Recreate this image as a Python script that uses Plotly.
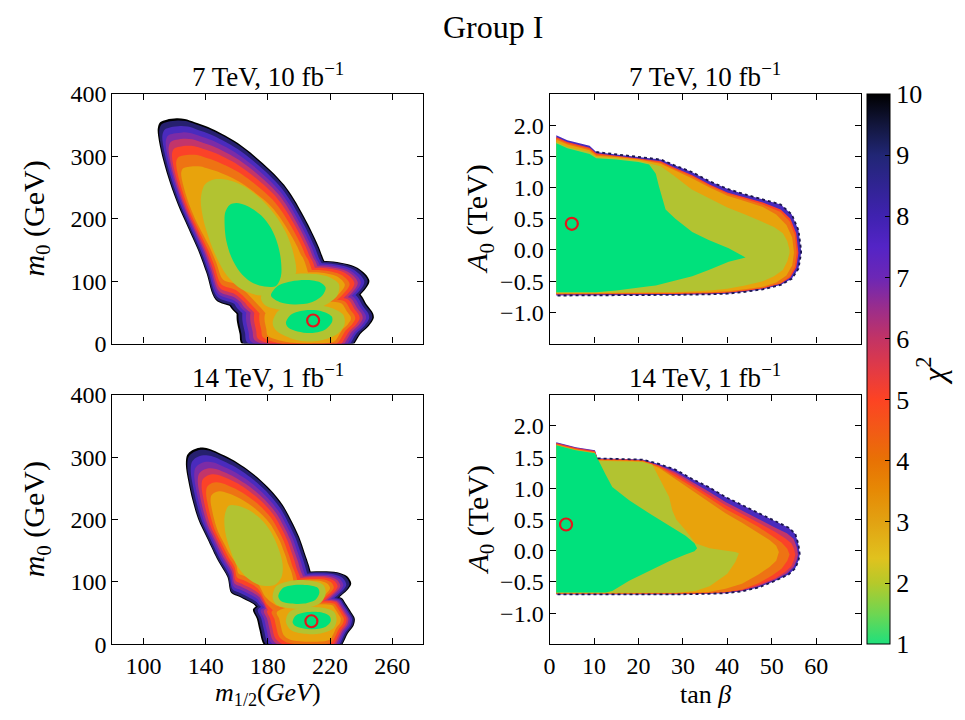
import plotly.graph_objects as go

FONT = "Liberation Serif"
W, H = 965, 720

# ---------------------------------------------------------------- colour bar
CHI2_TICKS = [1, 2, 3, 4, 5, 6, 7, 8, 9, 10]
CB_STOPS = [1.0, 1.5, 2.0, 2.4, 3.0, 3.5, 4.0, 4.5, 5.0, 5.5, 6.0, 6.5, 7.0, 7.5, 8.0, 9.0, 9.5, 10.0]
CB_COLORS = ["#1fe07c", "#6fd651", "#b6c92a", "#e0c21e", "#e2a212", "#e68a05", "#e87204",
             "#f25a16", "#fd4323", "#e23a45", "#c23365", "#9a2d8c", "#6c27b6", "#5424c6",
             "#3f22b0", "#212675", "#12163c", "#000000"]

# ---------------------------------------------------------------- tick labels
M12_TICKS = [100, 140, 180, 220, 260]
M0_TICKS = [0, 100, 200, 300, 400]
TANB_TICKS = [0, 10, 20, 30, 40, 50, 60]
A0_TICKS = [-1.0, -0.5, 0.0, 0.5, 1.0, 1.5, 2.0]

# best-fit points (red circles)
BEST_M12 = [209.1, 208.0]
BEST_M0 = [37.0, 37.0]
BEST_TANB = [5.0, 3.7]
BEST_A0 = [0.42, 0.42]

# ======================= (m1/2, m0) plane, 7 TeV 10 fb-1 ====================
TL_MAIN_X = [212.0, 195.0, 178.0, 166.0, 158.0, 146.5, 140.5, 135.2, 128.8, 122.4, 117.1, 112.8,
             110.0, 109.2, 110.7, 114.9, 121.3, 126.6, 133.0, 141.6, 150.1, 160.7, 171.4, 182.0,
             190.5, 196.9, 203.3, 208.6, 212.9, 216.1, 218.2, 222.5, 225.0, 222.0]
TL_MAIN_Y = [-60.0, -45.0, 5.0, 40.0, 58.0, 70.0, 113.1, 149.1, 185.0, 221.0, 257.0, 293.0,
             323.9, 344.4, 354.7, 358.8, 360.9, 359.9, 354.7, 347.0, 336.7, 321.3, 300.7, 277.1,
             254.5, 231.3, 203.1, 177.4, 154.2, 133.7, 124.4, 87.4, 40.0, -20.0]
TL_MAIN_ANCHOR = [163.1, 156.8]
TL_MAIN_SX = [1.0, 0.982, 0.945, 0.905, 0.87, 0.83, 0.78, 0.72]
TL_MAIN_SY = [1.0, 0.984, 0.94, 0.89, 0.84, 0.785, 0.715, 0.625]
TL_MAIN_L2_X = [145.8, 139.4, 136.9, 138.4, 142.0, 146.9, 153.3, 162.9, 175.6, 190.5, 198.0, 196.5,
                192.7, 186.3, 176.7, 165.0, 154.3]
TL_MAIN_L2_Y = [263.2, 254.5, 231.3, 200.5, 169.7, 138.8, 110.5, 87.4, 77.1, 87.4, 113.1, 143.9,
                172.2, 200.5, 228.8, 251.9, 262.2]
TL_MAIN_L1_X = [155.4, 152.6, 152.2, 153.3, 156.5, 161.8, 169.2, 177.8, 185.2, 188.4, 188.4, 186.3,
                182.0, 175.6, 167.1, 159.7]
TL_MAIN_L1_Y = [222.1, 210.3, 189.7, 164.5, 138.8, 115.7, 98.7, 91.5, 92.5, 108.0, 133.7, 159.4,
                185.1, 205.6, 220.0, 225.2]

TL_MID_X = [203.4, 180.4, 162.7, 155.0, 159.4, 174.7, 196.8, 219.9, 237.6, 245.3, 239.1, 225.6]
TL_MID_Y = [35.6, 32.5, 42.8, 63.7, 89.5, 113.4, 128.9, 132.0, 121.7, 100.8, 77.1, 51.2]
TL_MID_ANCHOR = [201.4, 82.3]
TL_MID_S = [1.0, 0.975, 0.925, 0.875, 0.83, 0.78, 0.71, 0.64]
TL_MID_L2_X = [175.6, 179.9, 190.5, 205.5, 218.2, 225.7, 224.6, 216.1, 203.3, 188.4, 178.8]
TL_MID_L2_Y = [72.0, 97.7, 109.0, 112.1, 108.0, 95.1, 77.1, 60.7, 52.4, 54.0, 60.7]
TL_MID_L1_X = [182.0, 186.3, 194.8, 205.5, 214.0, 217.2, 215.0, 207.6, 196.9, 187.4]
TL_MID_L1_Y = [77.1, 92.5, 99.7, 101.8, 97.7, 89.5, 77.1, 65.8, 62.7, 66.8]

TL_LOW_X = [238.5, 243.8, 247.6, 248.1, 244.9, 239.5, 235.7, 231.0, 205.9, 180.0, 163.1, 161.8,
            159.9, 161.0, 175.6, 203.3, 224.6]
TL_LOW_Y = [81.2, 61.7, 48.8, 41.1, 28.3, 15.4, 0.0, -15.4, -20.6, -15.4, 0.0, 15.9,
            40.6, 56.6, 69.4, 84.8, 86.4]
TL_LOW_ANCHOR = [208.4, 35.1]
TL_LOW_S = [1.0, 0.975, 0.925, 0.875, 0.82, 0.77, 0.70, 0.63]
TL_LOW_L2_X = [183.1, 186.3, 194.8, 207.6, 220.4, 228.5, 229.3, 224.6, 214.0, 201.2, 190.5, 184.6]
TL_LOW_L2_Y = [33.4, 51.4, 60.7, 62.7, 57.6, 46.3, 30.8, 15.4, 5.1, 4.1, 12.9, 23.1]
TL_LOW_L1_X = [191.6, 194.8, 203.3, 214.0, 221.0, 221.4, 217.2, 208.7, 199.1, 193.1]
TL_LOW_L1_Y = [33.4, 46.3, 53.0, 52.4, 43.7, 36.0, 23.1, 17.0, 19.5, 25.7]

# ======================= (m1/2, m0) plane, 14 TeV 1 fb-1 ====================
BL_MAIN_X = [196.0, 185.0, 176.0, 162.0, 156.5, 154.0, 148.0, 141.0, 135.2, 131.5, 128.8, 127.3,
             128.1, 131.3, 136.2, 141.6, 147.9, 156.5, 165.0, 173.5, 182.0, 189.5, 195.2, 200.1,
             203.7, 206.5, 208.0, 212.0, 214.0, 208.0]
BL_MAIN_Y = [-5.0, 15.0, 55.0, 76.0, 82.3, 108.0, 133.7, 169.7, 200.5, 231.3, 262.2, 287.9,
             303.3, 311.0, 315.1, 313.6, 307.4, 297.1, 283.8, 267.3, 246.8, 223.6, 197.9, 172.2,
             146.5, 126.0, 112.1, 85.0, 50.0, 10.0]
BL_MAIN_ANCHOR = [168.5, 154.2]
BL_MAIN_SX = [1.0, 0.978, 0.925, 0.87, 0.815, 0.755, 0.685, 0.615]
BL_MAIN_SY = [1.0, 0.98, 0.925, 0.86, 0.795, 0.735, 0.655, 0.565]
BL_MAIN_L2_X = [154.8, 152.2, 152.6, 155.4, 159.7, 166.1, 174.6, 184.2, 188.8, 189.5, 186.7, 182.0,
                175.6, 167.1, 159.7]
BL_MAIN_L2_Y = [222.1, 205.6, 179.9, 154.2, 128.5, 108.0, 95.1, 95.1, 108.0, 128.5, 154.2, 179.9,
                200.5, 215.9, 222.6]

BL_MID_X = [233.6, 231.0, 224.6, 214.0, 201.2, 186.3, 173.5, 169.2, 169.7, 175.6, 190.5, 207.6,
            220.4, 227.2, 232.1]
BL_MID_Y = [97.7, 109.0, 115.7, 117.2, 115.2, 109.0, 97.7, 83.3, 69.4, 54.0, 43.7, 46.3,
            64.3, 78.1, 90.0]
BL_MID_ANCHOR = [198.7, 78.7]
BL_MID_S = [1.0, 0.97, 0.91, 0.855, 0.80, 0.75, 0.68, 0.61]
BL_MID_L2_X = [183.1, 185.2, 194.8, 207.6, 215.7, 217.2, 214.0, 203.3, 192.7, 185.2]
BL_MID_L2_Y = [74.5, 92.5, 101.8, 101.8, 95.1, 82.3, 66.8, 57.6, 58.1, 64.3]
BL_MID_L1_X = [186.7, 189.5, 196.9, 206.5, 212.3, 213.1, 210.8, 203.3, 194.8, 188.4]
BL_MID_L1_Y = [77.1, 90.0, 95.1, 94.6, 90.0, 82.3, 72.0, 65.3, 65.3, 69.4]

BL_LOW_X = [227.2, 229.9, 233.6, 235.9, 235.1, 231.4, 228.0, 224.6, 207.6, 184.2, 177.3, 174.6,
            172.9, 170.5, 186.3, 207.6]
BL_LOW_Y = [74.5, 65.8, 51.4, 41.1, 29.8, 17.5, 0.0, -12.9, -18.0, -12.9, 0.0, 23.1,
            41.1, 56.6, 72.0, 77.1]
BL_LOW_ANCHOR = [211.6, 42.0]
BL_LOW_S = [1.0, 0.972, 0.925, 0.88, 0.83, 0.78, 0.71, 0.63]
BL_LOW_L2_X = [191.6, 193.7, 201.2, 214.0, 222.5, 224.2, 222.5, 214.0, 203.3, 194.8]
BL_LOW_L2_Y = [36.0, 51.4, 58.6, 59.1, 52.4, 40.1, 26.7, 17.5, 17.0, 23.1]
BL_LOW_L1_X = [195.9, 198.0, 204.4, 214.0, 219.7, 220.4, 217.2, 209.7, 202.3, 197.4]
BL_LOW_L1_Y = [36.0, 46.3, 51.4, 51.4, 45.2, 37.0, 28.3, 24.2, 25.7, 29.8]

# ======================= (tan beta, A0) plane, 7 TeV 10 fb-1 ================
TR_X8 = [1.5, 4.0, 9.0, 10.5, 15.0, 20.0, 25.0, 28.0, 32.0, 36.0, 40.0, 44.0, 48.0, 52.0, 54.5, 56.0, 56.6]
TR_TOP8 = [1.84, 1.76, 1.67, 1.57, 1.53, 1.49, 1.45, 1.36, 1.25, 1.10, 0.98, 0.89, 0.81, 0.73, 0.57, 0.32, 0.0]
TR_BOT8 = [-0.73, -0.72, -0.72, -0.72, -0.72, -0.72, -0.72, -0.72, -0.72, -0.71, -0.70, -0.67, -0.63, -0.56, -0.46, -0.30, -0.05]
TR_X5 = [1.5, 4.0, 9.0, 10.5, 15.0, 20.0, 25.0, 28.0, 32.0, 36.0, 40.0, 44.0, 48.0, 52.0, 54.2, 55.5, 56.0]
TR_TOP5 = [1.81, 1.73, 1.64, 1.55, 1.51, 1.47, 1.42, 1.32, 1.20, 1.05, 0.92, 0.84, 0.76, 0.65, 0.50, 0.27, 0.0]
TR_BOT5 = [-0.715, -0.705, -0.705, -0.705, -0.705, -0.705, -0.705, -0.705, -0.705, -0.695, -0.685, -0.655, -0.615, -0.54, -0.44, -0.28, -0.05]
TR_X4 = [1.5, 4.0, 9.0, 10.5, 15.0, 20.0, 25.0, 28.0, 32.0, 36.0, 40.0, 44.0, 48.0, 52.0, 54.0, 55.2, 55.6]
TR_TOP4 = [1.79, 1.71, 1.62, 1.53, 1.50, 1.46, 1.40, 1.30, 1.18, 1.03, 0.90, 0.81, 0.73, 0.61, 0.46, 0.24, 0.0]
TR_BOT4 = [-0.705, -0.695, -0.695, -0.695, -0.695, -0.695, -0.695, -0.695, -0.695, -0.685, -0.675, -0.645, -0.605, -0.53, -0.43, -0.27, -0.04]
TR_X3 = [1.5, 4.0, 9.0, 10.5, 15.0, 20.0, 25.0, 28.0, 32.0, 36.0, 40.0, 44.0, 48.0, 51.0, 53.3, 54.6, 55.0]
TR_TOP3 = [1.77, 1.69, 1.60, 1.51, 1.49, 1.45, 1.38, 1.28, 1.15, 1.00, 0.87, 0.78, 0.69, 0.57, 0.40, 0.20, 0.0]
TR_BOT3 = [-0.695, -0.685, -0.685, -0.685, -0.685, -0.685, -0.685, -0.685, -0.685, -0.675, -0.66, -0.63, -0.59, -0.52, -0.41, -0.25, -0.04]
TR_X2 = [1.5, 4.0, 9.0, 10.5, 15.0, 20.0, 25.0, 28.0, 32.0, 36.0, 40.0, 44.0, 48.0, 50.5, 52.5, 53.5, 54.0]
TR_TOP2 = [1.73, 1.65, 1.57, 1.49, 1.47, 1.43, 1.34, 1.19, 0.97, 0.82, 0.68, 0.57, 0.45, 0.37, 0.27, 0.14, 0.0]
TR_BOT2 = [-0.685, -0.675, -0.675, -0.675, -0.675, -0.675, -0.675, -0.675, -0.665, -0.65, -0.62, -0.57, -0.50, -0.42, -0.32, -0.18, -0.05]
TR_X1 = [1.5, 4.0, 9.0, 10.5, 15.0, 20.0, 22.4, 23.9, 24.6, 25.2, 26.1, 28.3, 32.1, 35.8, 40.3, 44.1]
TR_TOP1 = [1.71, 1.63, 1.54, 1.47, 1.45, 1.41, 1.37, 1.22, 1.02, 0.86, 0.65, 0.50, 0.29, 0.16, 0.03, -0.12]
TR_BOT1 = [-0.675, -0.675, -0.675, -0.675, -0.65, -0.60, -0.58, -0.57, -0.56, -0.55, -0.53, -0.49, -0.42, -0.32, -0.19, -0.12]

# ======================= (tan beta, A0) plane, 14 TeV 1 fb-1 ================
BR_X8 = [1.5, 5.9, 10.2, 10.8, 17.1, 20.9, 24.6, 28.3, 32.1, 35.8, 39.6, 43.3, 47.0, 50.8, 53.8, 55.3, 56.0, 56.3]
BR_TOP8 = [1.74, 1.66, 1.61, 1.48, 1.47, 1.46, 1.39, 1.30, 1.15, 1.02, 0.86, 0.73, 0.60, 0.47, 0.37, 0.27, 0.10, -0.06]
BR_BOT8 = [-0.70, -0.70, -0.70, -0.70, -0.70, -0.70, -0.70, -0.70, -0.70, -0.69, -0.68, -0.65, -0.59, -0.48, -0.38, -0.28, -0.16, -0.06]
BR_X6 = [1.5, 5.9, 10.2, 10.8, 17.1, 20.9, 24.6, 28.3, 32.1, 35.8, 39.6, 43.3, 47.0, 50.8, 53.4, 54.9, 55.6, 55.9]
BR_TOP6 = [1.73, 1.65, 1.60, 1.47, 1.46, 1.45, 1.37, 1.26, 1.10, 0.95, 0.78, 0.65, 0.51, 0.37, 0.28, 0.19, 0.06, -0.06]
BR_BOT6 = [-0.695, -0.695, -0.695, -0.695, -0.695, -0.695, -0.695, -0.695, -0.695, -0.685, -0.67, -0.64, -0.57, -0.46, -0.36, -0.26, -0.15, -0.06]
BR_X5 = [1.5, 5.9, 10.2, 10.8, 17.1, 20.9, 24.6, 28.3, 32.1, 35.8, 39.6, 43.3, 47.0, 50.8, 53.0, 54.4, 55.0, 55.3]
BR_TOP5 = [1.72, 1.64, 1.59, 1.47, 1.46, 1.45, 1.36, 1.23, 1.06, 0.90, 0.73, 0.59, 0.45, 0.30, 0.20, 0.12, 0.03, -0.06]
BR_BOT5 = [-0.69, -0.69, -0.69, -0.69, -0.69, -0.69, -0.69, -0.69, -0.69, -0.68, -0.665, -0.63, -0.55, -0.44, -0.34, -0.25, -0.15, -0.06]
BR_X4 = [1.5, 5.9, 10.2, 10.8, 17.1, 20.9, 24.6, 28.3, 32.1, 35.8, 39.6, 43.3, 47.0, 50.0, 52.2, 53.5, 54.0]
BR_TOP4 = [1.71, 1.63, 1.58, 1.46, 1.45, 1.44, 1.35, 1.19, 1.02, 0.85, 0.67, 0.53, 0.38, 0.24, 0.13, 0.03, -0.06]
BR_BOT4 = [-0.685, -0.685, -0.685, -0.685, -0.685, -0.685, -0.685, -0.685, -0.685, -0.675, -0.66, -0.62, -0.52, -0.40, -0.29, -0.16, -0.06]
BR_X3 = [1.5, 5.9, 10.2, 10.8, 17.1, 20.9, 24.6, 28.3, 32.1, 35.8, 39.6, 43.3, 47.0, 49.5, 51.0, 51.6]
BR_TOP3 = [1.70, 1.62, 1.57, 1.45, 1.44, 1.43, 1.33, 1.15, 0.97, 0.78, 0.60, 0.45, 0.29, 0.17, 0.08, -0.02]
BR_BOT3 = [-0.68, -0.68, -0.68, -0.68, -0.68, -0.68, -0.68, -0.675, -0.67, -0.66, -0.61, -0.53, -0.38, -0.26, -0.16, -0.02]
BR_X2 = [1.5, 5.9, 10.2, 10.8, 17.1, 20.9, 23.1, 24.6, 26.9, 27.6, 28.5, 30.6, 32.8, 36.0, 40.0, 41.8, 42.6]
BR_TOP2 = [1.69, 1.61, 1.56, 1.44, 1.43, 1.42, 1.38, 1.17, 0.86, 0.65, 0.50, 0.33, 0.12, 0.04, 0.00, -0.02, -0.04]
BR_BOT2 = [-0.675, -0.675, -0.675, -0.675, -0.675, -0.675, -0.675, -0.675, -0.675, -0.675, -0.675, -0.665, -0.645, -0.57, -0.37, -0.18, -0.04]
BR_X1 = [1.5, 5.9, 10.2, 10.8, 12.6, 14.1, 17.9, 22.4, 26.9, 30.6, 32.6, 33.2]
BR_TOP1 = [1.69, 1.61, 1.56, 1.47, 1.22, 1.02, 0.81, 0.60, 0.40, 0.24, 0.12, 0.04]
BR_BOT1 = [-0.67, -0.67, -0.67, -0.67, -0.67, -0.645, -0.48, -0.33, -0.17, -0.06, -0.01, 0.04]

# ------------------------------------------------------------------ styles
BAND_COLOR = {10: "#000000", 9: "#26206f", 8: "#4a2bbd", 7: "#7c2ca6", 6: "#c2356a",
              5: "#fb4228", 4: "#ee7313", 3: "#e8a30c", 2: "#b2c331", 1: "#00e17c"}
OUTER_LEVELS = [10, 9, 8, 7, 6, 5, 4, 3]

fig = go.Figure()


def poly(xs, ys, color, xa, ya, smooth=True):
    fig.add_trace(go.Scatter(
        x=list(xs) + [xs[0]], y=list(ys) + [ys[0]], mode="lines", fill="toself",
        fillcolor=color,
        line=dict(width=0, color=color, shape="spline" if smooth else "linear", smoothing=0.9),
        hoverinfo="skip", showlegend=False, xaxis=xa, yaxis=ya))


def edge(xs, ys, xa, ya):
    # speckled outer edge of the scanned region (scatter-point look)
    fig.add_trace(go.Scatter(
        x=list(xs), y=list(ys), mode="lines",
        line=dict(width=1.8, color="#1c1650", dash="dot"),
        hoverinfo="skip", showlegend=False, xaxis=xa, yaxis=ya))


def lobe(x, y, anchor, sx, sy, l2=None, l1=None):
    return dict(x=x, y=y, anchor=anchor, sx=sx, sy=sy, l2=l2, l1=l1)


def draw_lobes(lobes, xa, ya):
    for i, lev in enumerate(OUTER_LEVELS):
        for lb in lobes:
            ax, ay = lb["anchor"]
            sx, sy = lb["sx"][i], lb["sy"][i]
            xs = [ax + sx * (v - ax) for v in lb["x"]]
            ys = [ay + sy * (v - ay) for v in lb["y"]]
            poly(xs, ys, BAND_COLOR[lev], xa, ya)
    for key, lev in (("l2", 2), ("l1", 1)):
        for lb in lobes:
            if lb[key] is not None:
                poly(lb[key][0], lb[key][1], BAND_COLOR[lev], xa, ya)


def draw_bands(bands, xa, ya):
    for xs, top, bot, lev in bands:
        poly(list(xs) + list(xs[::-1]), list(top) + list(bot[::-1]), BAND_COLOR[lev], xa, ya,
             smooth=False)
    xs, top, bot, _ = bands[0]
    edge(list(xs[3:]) + list(xs[::-1]), list(top[3:]) + list(bot[::-1]), xa, ya)


draw_lobes([
    lobe(TL_MAIN_X, TL_MAIN_Y, TL_MAIN_ANCHOR, TL_MAIN_SX, TL_MAIN_SY,
         (TL_MAIN_L2_X, TL_MAIN_L2_Y), (TL_MAIN_L1_X, TL_MAIN_L1_Y)),
    lobe(TL_MID_X, TL_MID_Y, TL_MID_ANCHOR, TL_MID_S, TL_MID_S,
         (TL_MID_L2_X, TL_MID_L2_Y), (TL_MID_L1_X, TL_MID_L1_Y)),
    lobe(TL_LOW_X, TL_LOW_Y, TL_LOW_ANCHOR, TL_LOW_S, TL_LOW_S,
         (TL_LOW_L2_X, TL_LOW_L2_Y), (TL_LOW_L1_X, TL_LOW_L1_Y)),
], "x", "y")

draw_lobes([
    lobe(BL_MAIN_X, BL_MAIN_Y, BL_MAIN_ANCHOR, BL_MAIN_SX, BL_MAIN_SY,
         (BL_MAIN_L2_X, BL_MAIN_L2_Y), None),
    lobe(BL_MID_X, BL_MID_Y, BL_MID_ANCHOR, BL_MID_S, BL_MID_S,
         (BL_MID_L2_X, BL_MID_L2_Y), (BL_MID_L1_X, BL_MID_L1_Y)),
    lobe(BL_LOW_X, BL_LOW_Y, BL_LOW_ANCHOR, BL_LOW_S, BL_LOW_S,
         (BL_LOW_L2_X, BL_LOW_L2_Y), (BL_LOW_L1_X, BL_LOW_L1_Y)),
], "x3", "y3")

draw_bands([(TR_X8, TR_TOP8, TR_BOT8, 8), (TR_X5, TR_TOP5, TR_BOT5, 5),
            (TR_X4, TR_TOP4, TR_BOT4, 4), (TR_X3, TR_TOP3, TR_BOT3, 3),
            (TR_X2, TR_TOP2, TR_BOT2, 2), (TR_X1, TR_TOP1, TR_BOT1, 1)], "x2", "y2")

draw_bands([(BR_X8, BR_TOP8, BR_BOT8, 8), (BR_X6, BR_TOP6, BR_BOT6, 6),
            (BR_X5, BR_TOP5, BR_BOT5, 5), (BR_X4, BR_TOP4, BR_BOT4, 4),
            (BR_X3, BR_TOP3, BR_BOT3, 3), (BR_X2, BR_TOP2, BR_BOT2, 2),
            (BR_X1, BR_TOP1, BR_BOT1, 1)], "x4", "y4")

# best-fit markers
circ = dict(symbol="circle-open", size=12, color="#e3161c", line=dict(width=2.2, color="#e3161c"))
for i, (xa, ya) in enumerate((("x", "y"), ("x3", "y3"))):
    fig.add_trace(go.Scatter(x=[BEST_M12[i]], y=[BEST_M0[i]], mode="markers", marker=circ,
                             hoverinfo="skip", showlegend=False, xaxis=xa, yaxis=ya))
for i, (xa, ya) in enumerate((("x2", "y2"), ("x4", "y4"))):
    fig.add_trace(go.Scatter(x=[BEST_TANB[i]], y=[BEST_A0[i]], mode="markers", marker=circ,
                             hoverinfo="skip", showlegend=False, xaxis=xa, yaxis=ya))

# colour bar carrier
cmin, cmax = CB_STOPS[0], CB_STOPS[-1]
colorscale = [[(v - cmin) / (cmax - cmin), c] for v, c in zip(CB_STOPS, CB_COLORS)]
fig.add_trace(go.Scatter(
    x=[-1000], y=[-1000], mode="markers", hoverinfo="skip", showlegend=False,
    xaxis="x2", yaxis="y2",
    marker=dict(size=1, color=[5], cmin=cmin, cmax=cmax, colorscale=colorscale, showscale=True,
                colorbar=dict(x=866 / W, xanchor="left", y=1 - (84 + 655) / 2 / H, yanchor="middle",
                              len=(655 - 84) / H, lenmode="fraction", thickness=23,
                              thicknessmode="pixels", outlinecolor="black", outlinewidth=1,
                              ticks="inside", ticklen=5, tickcolor="black", tickvals=CHI2_TICKS,
                              tickfont=dict(family=FONT, size=26, color="black"), xpad=0, ypad=0,
                              title=dict(text="<i>χ</i><sup>2</sup>", side="right",
                                         font=dict(family=FONT, size=32, color="black"))))))

# ------------------------------------------------------------------ layout
LX = [107 / W, 420 / W]
RX = [547 / W, 860 / W]
TY = [1 - 343 / H, 1 - 84 / H]
BY = [1 - 655 / H, 1 - 396 / H]

base = dict(showline=True, linecolor="black", linewidth=1.3, mirror="allticks", ticks="inside",
            ticklen=6, tickwidth=1, tickcolor="black", showgrid=False, zeroline=False,
            tickfont=dict(family=FONT, size=24, color="black"))

fig.update_layout(
    width=W, height=H, margin=dict(l=0, r=0, t=0, b=0),
    paper_bgcolor="white", plot_bgcolor="white", showlegend=False,
    xaxis=dict(base, domain=LX, anchor="y", range=[80, 280], tickvals=M12_TICKS, showticklabels=False),
    yaxis=dict(base, domain=TY, anchor="x", range=[0, 400], tickvals=M0_TICKS),
    xaxis2=dict(base, domain=RX, anchor="y2", range=[0, 70], tickvals=TANB_TICKS, showticklabels=False),
    yaxis2=dict(base, domain=TY, anchor="x2", range=[-1.5, 2.5], tickvals=A0_TICKS, tickformat=".1f"),
    xaxis3=dict(base, domain=LX, anchor="y3", range=[80, 280], tickvals=M12_TICKS),
    yaxis3=dict(base, domain=BY, anchor="x3", range=[0, 400], tickvals=M0_TICKS),
    xaxis4=dict(base, domain=RX, anchor="y4", range=[0, 70], tickvals=TANB_TICKS),
    yaxis4=dict(base, domain=BY, anchor="x4", range=[-1.5, 2.5], tickvals=A0_TICKS, tickformat=".1f"),
)


def note(text, px, py, size=27, angle=0, yanchor="middle"):
    fig.add_annotation(text=text, x=px / W, y=1 - py / H, xref="paper", yref="paper",
                       xanchor="center", yanchor=yanchor, showarrow=False, textangle=angle,
                       font=dict(family=FONT, size=size, color="black"))


note("Group I", 490, 15, size=32)
note("7 TeV, 10 fb<sup>−1</sup>", 263.5, 84, yanchor="bottom")
note("7 TeV, 10 fb<sup>−1</sup>", 703.5, 84, yanchor="bottom")
note("14 TeV, 1 fb<sup>−1</sup>", 263.5, 396, yanchor="bottom")
note("14 TeV, 1 fb<sup>−1</sup>", 703.5, 396, yanchor="bottom")
note("<i>m</i><sub>0</sub> (GeV)", 30, 213.5, size=30, angle=-90)
note("<i>m</i><sub>0</sub> (GeV)", 30, 525.5, size=30, angle=-90)
note("<i>A</i><sub>0</sub> (TeV)", 476, 213.5, size=30, angle=-90)
note("<i>A</i><sub>0</sub> (TeV)", 476, 525.5, size=30, angle=-90)
note("<i>m</i><sub>1/2</sub>(<i>GeV</i>)", 263.5, 707, size=26)
note("tan <i>β</i>", 703.5, 707, size=26)

fig.write_html("out.html")
